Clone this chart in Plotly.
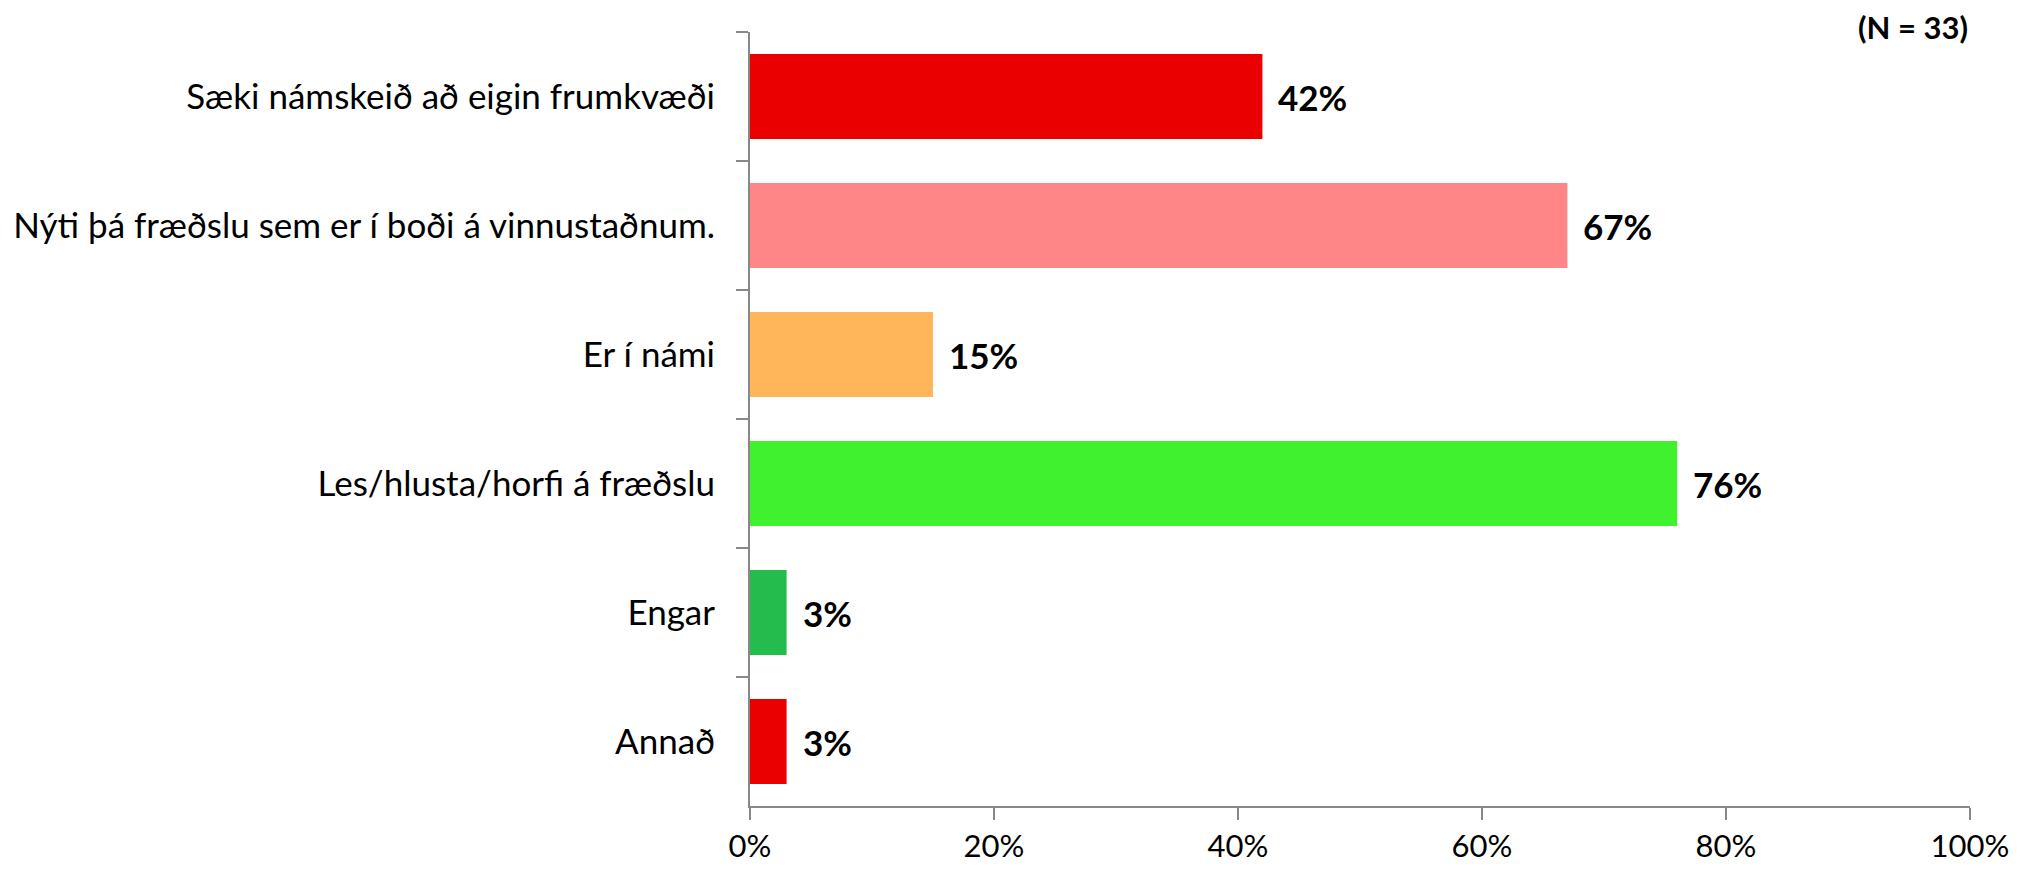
import plotly.graph_objects as go

categories = [
    "Sæki námskeið að eigin frumkvæði",
    "Nýti þá fræðslu sem er í boði á vinnustaðnum.",
    "Er í námi",
    "Les/hlusta/horfi á fræðslu",
    "Engar",
    "Annað",
]
values = [0.42, 0.67, 0.15, 0.76, 0.03, 0.03]
colors = ["#EB0000", "#FF8686", "#FFB55A", "#40F22E", "#24BC4C", "#EB0000"]
tick_vals = [0, 0.2, 0.4, 0.6, 0.8, 1.0]
tick_text = ["0%", "20%", "40%", "60%", "80%", "100%"]
n_label = "(N = 33)"

FONT = "Lato, Carlito, Calibri, sans-serif"
AXIS_COLOR = "#888888"

fig = go.Figure()
fig.add_trace(go.Bar(
    y=categories,
    x=values,
    orientation="h",
    marker=dict(color=colors, line=dict(width=0)),
    width=0.66,
    hoverinfo="skip",
))

for c, v in zip(categories, values):
    fig.add_annotation(
        x=v, y=c, xref="x", yref="y",
        text=f"<b>{round(v*100)}%</b>",
        showarrow=False, xanchor="left", yanchor="middle",
        xshift=14,
        font=dict(family=FONT, size=35, color="#000000"),
    )

fig.add_annotation(
    x=1.0, y=1.0, xref="paper", yref="paper",
    text=f"<b>{n_label}</b>", showarrow=False,
    xanchor="right", yanchor="top", yshift=26, xshift=0,
    font=dict(family=FONT, size=31, color="#000000"),
)

fig.update_layout(
    width=2035, height=872,
    margin=dict(l=742, r=73, t=24, b=74),
    paper_bgcolor="white", plot_bgcolor="white",
    showlegend=False,
    font=dict(family=FONT, size=35, color="#000000"),
)
fig.update_xaxes(
    range=[0, 1.0],
    automargin=False,
    tickvals=tick_vals, ticktext=tick_text,
    showgrid=False, zeroline=False,
    showline=True, linecolor=AXIS_COLOR, linewidth=2,
    ticks="outside", ticklen=12, tickcolor=AXIS_COLOR, tickwidth=2,
    tickfont=dict(family=FONT, size=31, color="#000000"),
)
fig.update_yaxes(
    autorange="reversed",
    automargin=False,
    showgrid=False, zeroline=False,
    showline=True, linecolor=AXIS_COLOR, linewidth=2,
    ticks="outside", ticklen=12, tickcolor=AXIS_COLOR, tickwidth=2,
    tickson="boundaries",
    ticklabelstandoff=26,
    tickfont=dict(family=FONT, size=35, color="#000000"),
)

fig.write_html("out.html")
